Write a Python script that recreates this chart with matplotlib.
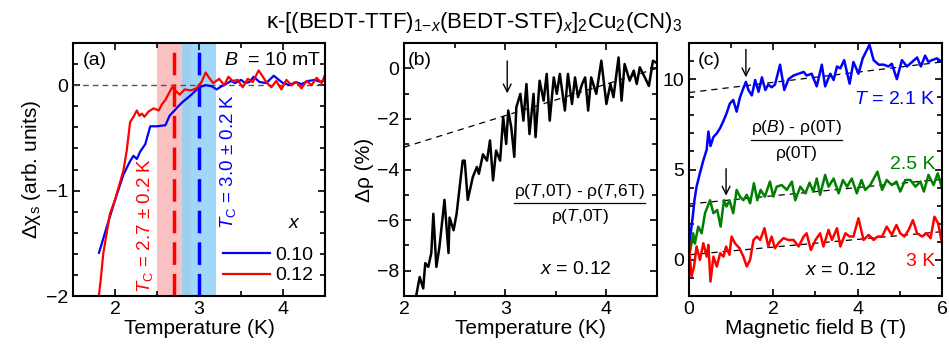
import matplotlib
matplotlib.use("Agg")
import matplotlib.pyplot as plt
from matplotlib.ticker import MultipleLocator

plt.rcParams['font.family'] = ['Liberation Sans', 'DejaVu Sans']
plt.rcParams['mathtext.fontset'] = 'custom'
plt.rcParams['mathtext.rm'] = 'Liberation Sans'
plt.rcParams['mathtext.it'] = 'Liberation Sans:italic'
plt.rcParams['mathtext.bf'] = 'Liberation Sans:bold'
plt.rcParams['font.size'] = 14

# ---- panel (a): susceptibility vs temperature ----
T_a_010 = [1.81, 1.9, 2.0, 2.1, 2.18, 2.22, 2.26, 2.3, 2.36, 2.42, 2.5, 2.6, 2.65, 2.72,
           2.79, 2.85, 2.91, 3.0, 3.08, 3.15, 3.21, 3.27, 3.32, 3.38, 3.43, 3.5, 3.55, 3.6,
           3.65, 3.72, 3.8, 3.89, 3.95, 4.0, 4.08, 4.15, 4.22, 4.3, 4.38, 4.45, 4.5]
chi_010 = [-1.59, -1.35, -1.09, -0.85, -0.72, -0.67, -0.70, -0.63, -0.56, -0.39, -0.39, -0.38, -0.29, -0.23,
           -0.17, -0.13, -0.09, -0.02, 0.0, -0.01, -0.04, -0.01, 0.01, 0.04, 0.02, 0.05, 0.02, 0.03,
           0.08, 0.03, 0.02, 0.09, 0.05, 0.02, 0.0, 0.03, 0.01, 0.04, 0.05, 0.03, 0.05]
T_a_012 = [1.80, 1.83, 1.86, 1.94, 2.0, 2.05, 2.1, 2.14, 2.18, 2.22, 2.26, 2.29, 2.32, 2.35, 2.4,
           2.46, 2.52, 2.56, 2.6, 2.64, 2.68, 2.73, 2.77, 2.83, 2.9, 2.97, 3.03, 3.08, 3.12,
           3.17, 3.24, 3.3, 3.35, 3.4, 3.46, 3.52, 3.58, 3.64, 3.71, 3.76, 3.8, 3.86, 3.92,
           3.98, 4.04, 4.1, 4.16, 4.22, 4.28, 4.34, 4.4, 4.46, 4.5]
chi_012 = [-2.05, -1.85, -1.6, -1.22, -1.09, -0.95, -0.81, -0.62, -0.35, -0.30, -0.24, -0.29, -0.27, -0.30, -0.25,
           -0.22, -0.24, -0.18, -0.14, -0.08, -0.02, -0.06, -0.09, -0.04, -0.05, -0.03, 0.03, 0.12, 0.07,
           0.02, 0.06, 0.0, 0.08, 0.04, 0.05, -0.02, 0.06, 0.03, 0.14, 0.08, 0.03, -0.02, 0.04,
           -0.04, 0.05, 0.0, 0.03, -0.03, 0.04, 0.0, 0.07, 0.02, 0.1]
Tc_012, Tc_010, Tc_err = 2.7, 3.0, 0.2

# ---- panel (b): magnetoresistance vs temperature ----
T_b = [2.12, 2.155, 2.19, 2.21, 2.24, 2.27, 2.29, 2.32, 2.35, 2.40, 2.44, 2.45, 2.49, 2.52,
       2.55, 2.58, 2.6, 2.63, 2.68, 2.72, 2.74, 2.78, 2.82, 2.85, 2.88, 2.91, 2.95, 2.98,
       3.01, 3.03, 3.06, 3.09, 3.11, 3.15, 3.18, 3.21, 3.24, 3.28, 3.3, 3.34, 3.38, 3.41,
       3.44, 3.48, 3.51, 3.54, 3.59, 3.62, 3.66, 3.69, 3.72, 3.76, 3.79, 3.82, 3.85, 3.9,
       3.95, 4.0, 4.04, 4.07, 4.12, 4.15, 4.18, 4.23, 4.27, 4.3, 4.33, 4.38, 4.42, 4.46, 4.5]
drho_b = [-9.0, -8.25, -8.7, -7.7, -7.85, -7.3, -5.75, -7.85, -7.07, -5.2, -7.3, -5.9, -6.4, -5.75,
          -4.7, -3.65, -3.65, -5.2, -4.3, -3.9, -4.17, -3.4, -3.65, -2.85, -4.43, -3.25, -3.65, -1.93,
          -2.99, -1.67, -2.33, -3.5, -1.54, -1.01, -2.07, -0.62, -2.6, -1.01, -2.72, -0.49, -1.28, -0.22,
          -2.07, -0.36, -1.01, -0.22, -1.67, -0.22, -1.41, -0.36, -1.14, -0.62, -0.36, -1.67, -0.36, -1.01,
          0.3, -1.41, -0.62, -1.14, 0.43, -1.28, 0.17, -0.49, -0.09, -0.62, 0.04, -0.36, -0.7, 0.3, 0.2]
T_b_fit = [2.0, 4.5]
drho_b_fit = [-3.12, 0.0]

# ---- panel (c): magnetoresistance vs field ----
B_21 = [0.0, 0.04, 0.09, 0.13, 0.18, 0.26, 0.34, 0.42, 0.46, 0.51, 0.58, 0.66, 0.74, 0.82, 0.89,
        0.97, 1.05, 1.13, 1.21, 1.29, 1.35, 1.41, 1.49, 1.57, 1.65, 1.73, 1.81, 1.88, 1.96,
        2.04, 2.16, 2.26, 2.36, 2.48, 2.6, 2.72, 2.79, 2.91, 3.03, 3.15, 3.23, 3.35, 3.43,
        3.51, 3.59, 3.68, 3.81, 3.9, 4.02, 4.12, 4.28, 4.38, 4.5, 4.62, 4.73, 4.81, 4.93,
        5.05, 5.17, 5.29, 5.41, 5.5, 5.6, 5.68, 5.76, 5.88, 6.0]
drho_21 = [0.83, 1.47, 2.4, 3.3, 4.05, 4.8, 5.5, 6.1, 7.1, 6.3, 6.8, 7.0, 7.3, 7.7, 8.1,
           8.65, 8.85, 8.2, 9.0, 9.5, 9.85, 9.4, 9.1, 9.95, 9.3, 10.1, 9.4, 9.7, 9.55,
           9.7, 10.8, 9.4, 10.0, 10.2, 10.3, 10.4, 10.2, 10.3, 9.6, 10.8, 9.6, 10.3, 9.95,
           10.7, 10.6, 11.05, 9.75, 10.95, 10.3, 11.15, 11.9, 11.05, 10.8, 10.8, 10.7, 10.85, 10.0,
           11.05, 10.7, 10.95, 11.2, 10.7, 11.3, 10.95, 11.05, 11.15, 10.95]
B_25 = [0.02, 0.1, 0.14, 0.22, 0.3, 0.38, 0.5, 0.58, 0.67, 0.75, 0.83, 0.89, 0.96, 1.05,
        1.13, 1.21, 1.29, 1.37, 1.45, 1.54, 1.62, 1.7, 1.8, 1.92, 2.0, 2.08, 2.2, 2.32,
        2.44, 2.52, 2.64, 2.76, 2.86, 2.95, 3.03, 3.11, 3.23, 3.31, 3.43, 3.55, 3.65, 3.75,
        3.86, 3.98, 4.09, 4.18, 4.3, 4.47, 4.58, 4.69, 4.81, 4.92, 5.01, 5.13, 5.25, 5.37,
        5.49, 5.57, 5.68, 5.8, 5.9, 6.0]
drho_25 = [0.37, 1.47, 0.9, 1.84, 1.47, 2.58, 3.3, 2.58, 2.76, 1.84, 3.3, 2.95, 3.3, 2.58,
           3.87, 3.5, 3.3, 3.6, 3.13, 4.24, 3.3, 3.87, 3.5, 4.33, 3.5, 4.05, 4.14, 3.87,
           4.33, 3.3, 4.05, 3.68, 4.27, 3.78, 4.5, 3.6, 4.7, 4.05, 4.5, 3.68, 4.42, 4.05,
           4.5, 3.68, 4.42, 3.87, 4.14, 4.88, 3.87, 4.42, 4.14, 4.33, 3.78, 4.42, 4.42, 4.05,
           4.33, 3.78, 4.7, 4.14, 4.79, 3.96]
B_3 = [0.0, 0.02, 0.06, 0.12, 0.18, 0.26, 0.34, 0.42, 0.46, 0.51, 0.58, 0.66, 0.74, 0.82,
       0.88, 0.96, 1.01, 1.09, 1.2, 1.29, 1.37, 1.45, 1.53, 1.61, 1.69, 1.79, 1.88, 1.96,
       2.04, 2.12, 2.24, 2.36, 2.48, 2.6, 2.72, 2.79, 2.89, 3.0, 3.11, 3.19, 3.31, 3.39,
       3.51, 3.59, 3.71, 3.81, 3.9, 4.02, 4.14, 4.26, 4.38, 4.47, 4.58, 4.69, 4.81, 4.92,
       5.01, 5.11, 5.21, 5.31, 5.41, 5.53, 5.63, 5.73, 5.82, 5.91, 6.0]
drho_3 = [1.1, 0.18, -0.92, -0.37, 0.74, 0.0, 0.92, 0.18, 0.83, -1.2, 0.18, -0.37, 0.37, 0.18,
          0.74, 0.28, 1.29, 0.92, 0.64, 0.18, -0.37, 0.0, 1.1, 1.29, 1.1, 1.75, 0.74, 1.29,
          0.64, 0.92, 1.2, 1.1, 1.1, 0.74, 1.29, 1.47, 0.55, 1.1, 1.47, 0.74, 1.66, 1.1,
          1.75, 0.74, 1.47, 1.29, 1.29, 2.3, 1.1, 1.38, 1.1, 1.29, 1.29, 1.84, 1.38, 1.93,
          1.47, 1.29, 1.66, 2.2, 1.47, 1.29, 1.47, 1.2, 2.39, 2.02, 0.92]
B_fit = [0.0, 6.0]
fit_21 = [9.26, 10.95]
fit_25 = [3.09, 4.46]
fit_3 = [0.28, 1.56]
B_arrow_21, B_arrow_25 = 1.35, 0.88


def style_axis(ax):
    ax.tick_params(which='both', direction='in', top=True, right=True, width=1.2, labelsize=14)
    ax.tick_params(which='major', length=5)
    ax.tick_params(which='minor', length=3.5)
    for s in ax.spines.values():
        s.set_linewidth(1.5)


def fraction(ax, x, y, num, den, size=12.5):
    # numerator, rule and denominator stacked in axes coordinates
    t = ax.text(x, y + 0.05, num, transform=ax.transAxes, ha='center', va='center', fontsize=size)
    ax.text(x, y - 0.05, den, transform=ax.transAxes, ha='center', va='center', fontsize=size)
    fig.canvas.draw()
    bb = t.get_window_extent().transformed(ax.transAxes.inverted())
    ax.plot([bb.x0, bb.x1], [y + 0.003, y + 0.003], transform=ax.transAxes, color='black', lw=0.9)


fig = plt.figure(figsize=(9.49, 3.46), dpi=100)
ax1 = fig.add_axes([0.0769, 0.1445, 0.2656, 0.7312])
ax2 = fig.add_axes([0.4257, 0.1445, 0.2666, 0.7312])
ax3 = fig.add_axes([0.7260, 0.1445, 0.2666, 0.7312])

fig.text(0.5, 0.935, r'κ-[(BEDT-TTF)$_{1\mathrm{-}x}$(BEDT-STF)$_x$]$_2$Cu$_2$(CN)$_3$',
         ha='center', va='center', fontsize=16)

# (a)
ax1.axvspan(Tc_012 - Tc_err, Tc_012 + Tc_err, color='#f9c1c1', lw=0)
ax1.axvspan(Tc_010 - Tc_err, Tc_010 + Tc_err, color='#8ed2f8', alpha=0.85, lw=0)
ax1.axvline(Tc_012, color='#ff0000', lw=2.5, dashes=(6.5, 2.6))
ax1.axvline(Tc_010, color='#0000ff', lw=2.5, dashes=(6.5, 2.6))
ax1.axhline(0, color='#555555', lw=1, dashes=(4, 3))
l1, = ax1.plot(T_a_010, chi_010, color='#0000ff', lw=1.6)
l2, = ax1.plot(T_a_012, chi_012, color='#ff0000', lw=1.6)
ax1.set_xlim(1.5, 4.5)
ax1.set_ylim(-2, 0.4)
ax1.xaxis.set_major_locator(MultipleLocator(1))
ax1.xaxis.set_minor_locator(MultipleLocator(0.5))
ax1.yaxis.set_major_locator(MultipleLocator(1))
ax1.yaxis.set_minor_locator(MultipleLocator(0.2))
ax1.set_xlabel('Temperature (K)', fontsize=15, labelpad=1)
ax1.set_ylabel(r'Δχ$_\mathrm{s}$ (arb. units)', fontsize=15, labelpad=2)
ax1.text(0.04, 0.93, '(a)', transform=ax1.transAxes, ha='left', va='center', fontsize=14)
ax1.text(0.985, 0.93, r'$B$  = 10 mT', transform=ax1.transAxes, ha='right', va='center', fontsize=14)
ax1.text(2.36, -1.33, r'$T_\mathrm{C}$ = 2.7 ± 0.2 K', rotation=90, color='#ff0000',
         ha='center', va='center', fontsize=13.5)
ax1.text(3.35, -0.72, r'$T_\mathrm{C}$ = 3.0 ± 0.2 K', rotation=90, color='#0000ff',
         ha='center', va='center', fontsize=13.5)
ax1.text(0.88, 0.285, r'$x$', transform=ax1.transAxes, ha='center', va='center', fontsize=14)
ax1.legend([l1, l2], ['0.10', '0.12'], loc='lower right', frameon=False, fontsize=14,
           handlelength=2.4, handletextpad=0.3, labelspacing=0.15, borderaxespad=0.2)
style_axis(ax1)

# (b)
ax2.plot(T_b_fit, drho_b_fit, color='black', lw=0.9, dashes=(5, 4))
ax2.plot(T_b, drho_b, color='black', lw=1.8)
ax2.annotate('', xy=(3.02, -1.1), xytext=(3.02, 0.4),
             arrowprops=dict(arrowstyle='->', color='black', lw=1, mutation_scale=14))
ax2.set_xlim(2, 4.5)
ax2.set_ylim(-9, 1)
ax2.xaxis.set_major_locator(MultipleLocator(1))
ax2.xaxis.set_minor_locator(MultipleLocator(0.5))
ax2.yaxis.set_major_locator(MultipleLocator(2))
ax2.yaxis.set_minor_locator(MultipleLocator(1))
ax2.set_xlabel('Temperature (K)', fontsize=15, labelpad=1)
ax2.set_ylabel('Δρ (%)', fontsize=15, labelpad=2)
ax2.text(0.015, 0.93, '(b)', transform=ax2.transAxes, ha='left', va='center', fontsize=14)
fraction(ax2, 0.695, 0.365, r'ρ($T$,0T) - ρ($T$,6T)', r'ρ($T$,0T)')
ax2.text(0.68, 0.105, r'$x$ = 0.12', transform=ax2.transAxes, ha='center', va='center', fontsize=14)
style_axis(ax2)

# (c)
ax3.plot(B_fit, fit_21, color='black', lw=0.9, dashes=(5, 4))
ax3.plot(B_fit, fit_25, color='black', lw=0.9, dashes=(5, 4))
ax3.plot(B_fit, fit_3, color='black', lw=0.9, dashes=(5, 4))
ax3.plot(B_21, drho_21, color='#0000ff', lw=1.8)
ax3.plot(B_25, drho_25, color='#008000', lw=1.8)
ax3.plot(B_3, drho_3, color='#ff0000', lw=1.8)
ax3.annotate('', xy=(B_arrow_21, 9.95), xytext=(B_arrow_21, 11.8),
             arrowprops=dict(arrowstyle='->', color='black', lw=1, mutation_scale=14))
ax3.annotate('', xy=(B_arrow_25, 3.4), xytext=(B_arrow_25, 5.2),
             arrowprops=dict(arrowstyle='->', color='black', lw=1, mutation_scale=14))
ax3.set_xlim(0, 6)
ax3.set_ylim(-2, 12)
ax3.xaxis.set_major_locator(MultipleLocator(2))
ax3.xaxis.set_minor_locator(MultipleLocator(1))
ax3.yaxis.set_major_locator(MultipleLocator(5))
ax3.yaxis.set_minor_locator(MultipleLocator(1))
ax3.set_xlabel('Magnetic field B (T)', fontsize=15, labelpad=1)
ax3.text(0.035, 0.93, '(c)', transform=ax3.transAxes, ha='left', va='center', fontsize=14)
ax3.text(0.975, 0.775, r'$T$ = 2.1 K', color='#0000ff', transform=ax3.transAxes,
         ha='right', va='center', fontsize=14)
ax3.text(0.975, 0.52, '2.5 K', color='#008000', transform=ax3.transAxes,
         ha='right', va='center', fontsize=14)
ax3.text(0.975, 0.135, '3 K', color='#ff0000', transform=ax3.transAxes,
         ha='right', va='center', fontsize=14)
fraction(ax3, 0.425, 0.615, r'ρ($B$) - ρ(0T)', r'ρ(0T)')
ax3.text(0.6, 0.1, r'$x$ = 0.12', transform=ax3.transAxes, ha='center', va='center', fontsize=14)
style_axis(ax3)

fig.savefig('out.png', dpi=100)
